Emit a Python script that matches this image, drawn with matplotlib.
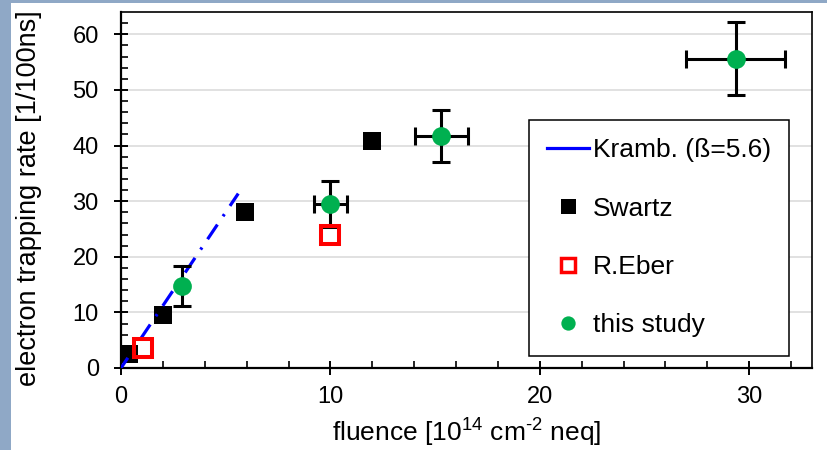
import matplotlib
matplotlib.use("Agg")
import matplotlib.pyplot as plt
from matplotlib.lines import Line2D
from matplotlib.patches import Rectangle

plt.rcParams['font.family'] = ['Liberation Sans', 'DejaVu Sans']
plt.rcParams['mathtext.fontset'] = 'custom'
plt.rcParams['mathtext.rm'] = 'Liberation Sans'
plt.rcParams['mathtext.it'] = 'Liberation Sans:italic'
plt.rcParams['lines.scale_dashes'] = False

# Kramberger prediction (beta = 5.6), drawn from the top end down to the origin
kramb_fluence = [5.6, 0.0]
kramb_rate = [31.36, 0.0]

# Swartz measurements
swartz_fluence = [0.4, 2.0, 5.9, 12.0]
swartz_rate = [2.6, 9.6, 28.0, 40.8]

# R.Eber measurements
eber_fluence = [1.05, 10.0]
eber_rate = [3.6, 23.9]

# this study, with errors
study_fluence = [2.9, 10.0, 15.3, 29.35]
study_rate = [14.7, 29.5, 41.7, 55.6]
study_xerr = [0.0, 0.8, 1.25, 2.35]
study_yerr = [3.6, 4.1, 4.7, 6.6]

BLUE = '#0000ff'
RED = '#ff0000'
GREEN = '#00b050'

fig = plt.figure(figsize=(8.28, 4.5), dpi=100)
fig.patch.set_facecolor('white')
# slide background strips
fig.patches.append(Rectangle((0, 0), 11 / 828, 1, transform=fig.transFigure,
                             facecolor='#8fa8c6', edgecolor='none', zorder=-5))
fig.patches.append(Rectangle((0, 1 - 3 / 450), 1, 3 / 450, transform=fig.transFigure,
                             facecolor='#8fa8c6', edgecolor='none', zorder=-5))

ax = fig.add_axes([121 / 828, 82 / 450, 691 / 828, 356 / 450])

ax.plot(swartz_fluence, swartz_rate, linestyle='none', marker='s', ms=13.5,
        mfc='black', mec='black', mew=0, zorder=2)

ax.plot(kramb_fluence, kramb_rate, color=BLUE, lw=2.3,
        linestyle=(2.0, (12.7, 7.2, 1.8, 7.2)), zorder=3)

ax.errorbar(study_fluence, study_rate, xerr=study_xerr, yerr=study_yerr,
            fmt='none', ecolor='black', elinewidth=2.2, capsize=6.5,
            capthick=2.2, zorder=3)

ax.plot(eber_fluence, eber_rate, linestyle='none', marker='s', ms=12.7,
        mfc='none', mec=RED, mew=2.9, zorder=4)

ax.plot(study_fluence, study_rate, linestyle='none', marker='o', ms=13.5,
        mfc=GREEN, mec=GREEN, mew=0, zorder=5)

ax.set_xlim(0, 33)
ax.set_ylim(0, 64)
ax.set_xticks(range(0, 31, 10))
ax.set_xticks(range(0, 33, 2), minor=True)
ax.set_yticks(range(0, 61, 10))
ax.set_yticks(range(0, 64, 2), minor=True)

ax.yaxis.grid(True, which='major', color='#d9d9d9', lw=1.1)
ax.set_axisbelow(True)

ax.tick_params(which='major', direction='inout', length=10, width=1.4,
               labelsize=17, color='black')
ax.tick_params(which='minor', direction='in', length=5, width=1.2)
ax.tick_params(axis='y', which='major', pad=11)
ax.tick_params(axis='x', which='major', pad=8)

for side in ['left', 'bottom']:
    ax.spines[side].set_linewidth(1.6)
for side in ['top', 'right']:
    ax.spines[side].set_linewidth(1.2)

ax.set_xlabel(r'fluence [10$^{14}$ cm$^{\text{-2}}$ neq]', fontsize=19, labelpad=6)
ax.set_ylabel('electron trapping rate [1/100ns]', fontsize=19.5)
ax.yaxis.set_label_coords(-0.114, 0.476)

handles = [
    Line2D([], [], color=BLUE, lw=2.3),
    Line2D([], [], linestyle='none', marker='s', ms=10.8, mfc='black', mew=0),
    Line2D([], [], linestyle='none', marker='s', ms=10.4, mfc='none',
           mec=RED, mew=2.5),
    Line2D([], [], linestyle='none', marker='o', ms=10.3, mfc=GREEN, mew=0),
]
labels = ['Kramb. (ß=5.6)', 'Swartz', 'R.Eber', 'this study']
leg = ax.legend(handles, labels, loc='upper left', bbox_to_anchor=(0.590, 0.697),
                borderaxespad=0, fontsize=19, frameon=True, fancybox=False,
                edgecolor='black', framealpha=1, handlelength=1.6,
                handletextpad=0.12, labelspacing=1.3, borderpad=0.7)
leg.get_frame().set_linewidth(1.1)

fig.savefig('out.png', dpi=100)
